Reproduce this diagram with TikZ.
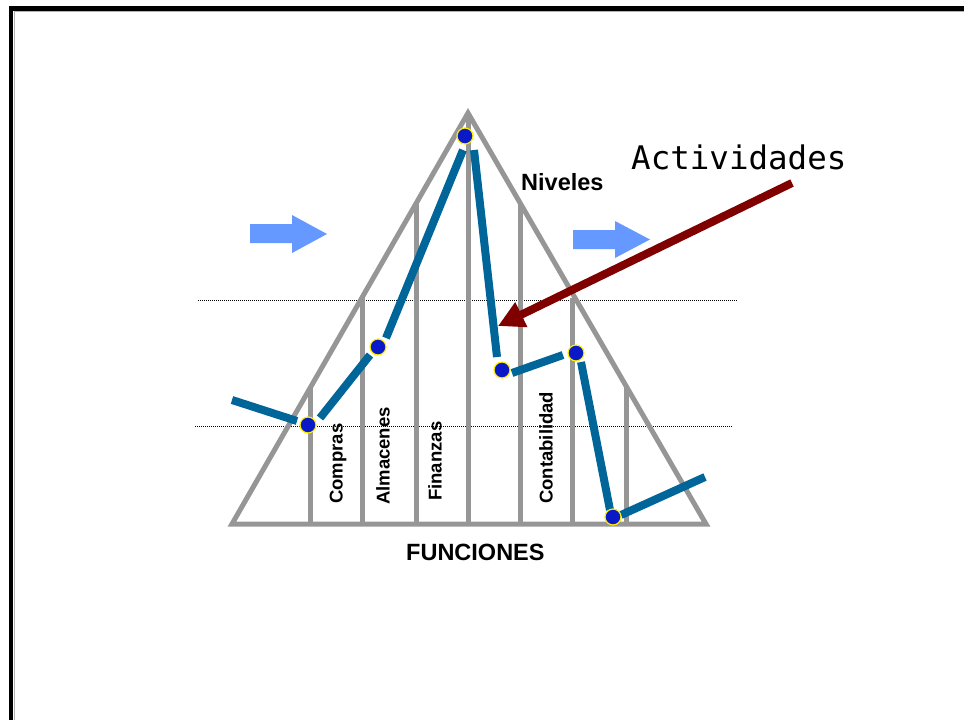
\documentclass[tikz,border=0pt]{standalone}
\usepackage{fontspec}
\setmainfont{Liberation Sans}
\newfontfamily\monofont{DejaVu Sans Mono}
\usetikzlibrary{arrows.meta}
\definecolor{tri}{RGB}{150,150,150}
\definecolor{path}{RGB}{0,102,153}
\definecolor{dotblue}{RGB}{10,25,200}
\definecolor{dotring}{RGB}{255,240,0}
\definecolor{flow}{RGB}{102,153,255}
\definecolor{pointer}{RGB}{128,0,0}
\tikzset{
  frame/.style={line width=4.5, black, line join=miter},
  triline/.style={line width=5, tri, line join=miter},
  guide/.style={line width=0.9, black, dash pattern=on 1pt off 1pt},
  seg/.style={line width=8, path},
  dotnode/.style={circle, fill=dotblue, draw=dotring, line width=1.2, minimum size=16, inner sep=0},
  funclabel/.style={rotate=90, anchor=west, inner sep=0, font=\fontsize{18.5}{20}\selectfont\bfseries},
  biglabel/.style={anchor=base west, inner sep=0, font=\fontsize{23.5}{27}\selectfont\bfseries},
  flowarrow/.style={fill=flow},
}
\begin{document}
\begin{tikzpicture}[x=1pt,y=-1pt]
\useasboundingbox (0,0) rectangle (964,720);
% frame
\draw[frame] (11,720) -- (11,8.5) -- (964,8.5);
\draw[line width=1, gray!60] (14,720) -- (14,11.5) -- (964,11.5);
% guide lines
\draw[guide] (198,300) -- (737,300);
\draw[guide] (195,426) -- (733,426);
% triangle
\coordinate (apex) at (468,113);
\coordinate (bl) at (232,524);
\coordinate (br) at (706,524);
\draw[triline] (apex) -- (bl) -- (br) -- cycle;
\coordinate (v1t) at (310,388); \coordinate (v1b) at (310,524);
\coordinate (v2t) at (362,298); \coordinate (v2b) at (362,524);
\coordinate (v3t) at (416,204); \coordinate (v3b) at (416,524);
\coordinate (v4t) at (468,113); \coordinate (v4b) at (468,524);
\coordinate (v5t) at (520,204); \coordinate (v5b) at (520,524);
\coordinate (v6t) at (572,298); \coordinate (v6b) at (572,524);
\coordinate (v7t) at (626,388); \coordinate (v7b) at (626,524);
\foreach \i in {1,...,7} \draw[triline] (v\i t) -- (v\i b);
% activity path segments
\coordinate (s1a) at (232,400); \coordinate (s1b) at (297,421);
\coordinate (s2a) at (320,418); \coordinate (s2b) at (370,355);
\coordinate (s3a) at (386,338); \coordinate (s3b) at (463,150);
\coordinate (s4a) at (474,150); \coordinate (s4b) at (497,357);
\coordinate (s5a) at (512,373); \coordinate (s5b) at (563,355);
\coordinate (s6a) at (581,362); \coordinate (s6b) at (610,510);
\coordinate (s7a) at (621,515); \coordinate (s7b) at (705,477);
\foreach \i in {1,...,7} \draw[seg] (s\i a) -- (s\i b);
% dots
\node[dotnode] (d1) at (308,425) {};
\node[dotnode] (d2) at (378,347) {};
\node[dotnode] (d3) at (465,136) {};
\node[dotnode] (d4) at (502,370) {};
\node[dotnode] (d5) at (576,353) {};
\node[dotnode] (d6) at (613,517) {};
% labels
\node[funclabel] (compras) at (338,504) {Compras};
\node[funclabel] (almacenes) at (383,505) {Almacenes};
\node[funclabel] (finanzas) at (435,501) {Finanzas};
\node[funclabel] (contabilidad) at (546,504) {Contabilidad};
\node[biglabel] (niveles) at (521,190) {Niveles};
\node[biglabel] (funciones) at (406,560) {FUNCIONES};
\node[anchor=base west, inner sep=0, font=\fontsize{32.5}{35}\selectfont\monofont] (act) at (631,169) {Actividades};
% pointer arrow
\coordinate (pstart) at (792,183);
\coordinate (ptip) at (498,326);
\draw[line width=8, pointer, -{Triangle[length=26pt,width=26pt]}] (pstart) -- (ptip);
% flow arrows
\fill[flowarrow] (250,224) -- (292,224) -- (292,215) -- (327,234) -- (292,253) -- (292,243) -- (250,243) -- cycle;
\fill[flowarrow] (573,230) -- (615,230) -- (615,221) -- (650,239.5) -- (615,258) -- (615,249) -- (573,249) -- cycle;
\end{tikzpicture}
\end{document}
